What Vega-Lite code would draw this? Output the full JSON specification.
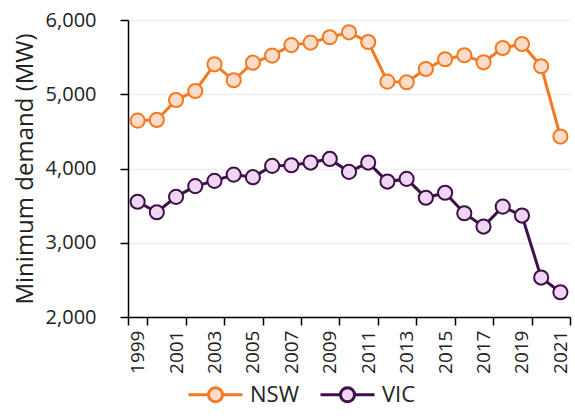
{
  "$schema": "https://vega.github.io/schema/vega-lite/v6.json",
  "width": 442,
  "height": 297,
  "padding": {"left": 13, "top": 10, "right": 5, "bottom": 5},
  "background": "white",
  "config": {
    "font": "Open Sans",
    "view": {"stroke": null},
    "axis": {"labelColor": "#222222", "titleColor": "#222222", "domainColor": "#000000", "tickColor": "#000000", "domainWidth": 1.5, "tickWidth": 1.5}
  },
  "data": {
    "values": [
      {"year": 1999, "series": "NSW", "mw": 4645},
      {"year": 2000, "series": "NSW", "mw": 4654},
      {"year": 2001, "series": "NSW", "mw": 4923},
      {"year": 2002, "series": "NSW", "mw": 5044},
      {"year": 2003, "series": "NSW", "mw": 5403},
      {"year": 2004, "series": "NSW", "mw": 5188},
      {"year": 2005, "series": "NSW", "mw": 5425},
      {"year": 2006, "series": "NSW", "mw": 5520},
      {"year": 2007, "series": "NSW", "mw": 5662},
      {"year": 2008, "series": "NSW", "mw": 5695},
      {"year": 2009, "series": "NSW", "mw": 5767},
      {"year": 2010, "series": "NSW", "mw": 5834},
      {"year": 2011, "series": "NSW", "mw": 5704},
      {"year": 2012, "series": "NSW", "mw": 5170},
      {"year": 2013, "series": "NSW", "mw": 5161},
      {"year": 2014, "series": "NSW", "mw": 5340},
      {"year": 2015, "series": "NSW", "mw": 5471},
      {"year": 2016, "series": "NSW", "mw": 5525},
      {"year": 2017, "series": "NSW", "mw": 5430},
      {"year": 2018, "series": "NSW", "mw": 5623},
      {"year": 2019, "series": "NSW", "mw": 5677},
      {"year": 2020, "series": "NSW", "mw": 5377},
      {"year": 2021, "series": "NSW", "mw": 4430},
      {"year": 1999, "series": "VIC", "mw": 3552},
      {"year": 2000, "series": "VIC", "mw": 3411},
      {"year": 2001, "series": "VIC", "mw": 3618},
      {"year": 2002, "series": "VIC", "mw": 3763},
      {"year": 2003, "series": "VIC", "mw": 3833},
      {"year": 2004, "series": "VIC", "mw": 3918},
      {"year": 2005, "series": "VIC", "mw": 3883},
      {"year": 2006, "series": "VIC", "mw": 4035},
      {"year": 2007, "series": "VIC", "mw": 4044},
      {"year": 2008, "series": "VIC", "mw": 4080},
      {"year": 2009, "series": "VIC", "mw": 4129},
      {"year": 2010, "series": "VIC", "mw": 3954},
      {"year": 2011, "series": "VIC", "mw": 4080},
      {"year": 2012, "series": "VIC", "mw": 3824},
      {"year": 2013, "series": "VIC", "mw": 3860},
      {"year": 2014, "series": "VIC", "mw": 3606},
      {"year": 2015, "series": "VIC", "mw": 3673},
      {"year": 2016, "series": "VIC", "mw": 3398},
      {"year": 2017, "series": "VIC", "mw": 3218},
      {"year": 2018, "series": "VIC", "mw": 3487},
      {"year": 2019, "series": "VIC", "mw": 3366},
      {"year": 2020, "series": "VIC", "mw": 2531},
      {"year": 2021, "series": "VIC", "mw": 2334}
    ]
  },
  "encoding": {
    "x": {
      "field": "year", "type": "ordinal",
      "scale": {"paddingInner": 0, "paddingOuter": 0},
      "axis": {
        "title": null,
        "values": [1999, 2001, 2003, 2005, 2007, 2009, 2011, 2013, 2015, 2017, 2019, 2021],
        "tickBand": "extent",
        "labelAngle": -90,
        "labelFontSize": 19,
        "tickSize": 8,
        "labelPadding": 5,
        "grid": false
      }
    },
    "y": {
      "field": "mw", "type": "quantitative",
      "scale": {"domain": [2000, 6000], "nice": false, "zero": false},
      "axis": {
        "title": "Minimum demand (MW)",
        "titleFontSize": 24,
        "titleFontWeight": "normal",
        "titlePadding": 8,
        "values": [2000, 3000, 4000, 5000, 6000],
        "format": ",.0f",
        "labelFontSize": 20,
        "tickSize": 8,
        "labelPadding": 24,
        "gridColor": "#eeeeee",
        "gridWidth": 1.5
      }
    }
  },
  "layer": [
    {
      "mark": {"type": "line", "strokeWidth": 3},
      "encoding": {
        "stroke": {
          "field": "series", "type": "nominal",
          "scale": {"domain": ["NSW", "VIC"], "range": ["#F37A21", "#3E0F48"]},
          "legend": {
            "title": null, "orient": "none", "direction": "horizontal",
            "legendX": 59, "legendY": 346,
            "symbolType": "M-1,0H-0.26M0.26,0H1M-0.26,0A0.26,0.26 0 1,0 0.26,0A0.26,0.26 0 1,0 -0.26,0",
            "symbolSize": 2916, "symbolStrokeWidth": 3, "symbolOpacity": 1,
            "labelFontSize": 22, "labelColor": "#222222", "labelOffset": 6, "columnPadding": 15
          }
        }
      }
    },
    {
      "mark": {"type": "point", "filled": false, "size": 200, "strokeWidth": 2, "opacity": 1, "shape": "circle"},
      "encoding": {
        "stroke": {"field": "series", "type": "nominal"},
        "fill": {
          "field": "series", "type": "nominal",
          "scale": {"domain": ["NSW", "VIC"], "range": ["#FCDDCB", "#EFD6F2"]},
          "legend": {
            "title": null, "orient": "none", "direction": "horizontal",
            "legendX": 59, "legendY": 346,
            "symbolType": "M-1,0H-0.26M0.26,0H1M-0.26,0A0.26,0.26 0 1,0 0.26,0A0.26,0.26 0 1,0 -0.26,0",
            "symbolSize": 2916, "symbolStrokeWidth": 3, "symbolOpacity": 1,
            "labelFontSize": 22, "labelColor": "#222222", "labelOffset": 6, "columnPadding": 15
          }
        }
      }
    }
  ]
}
